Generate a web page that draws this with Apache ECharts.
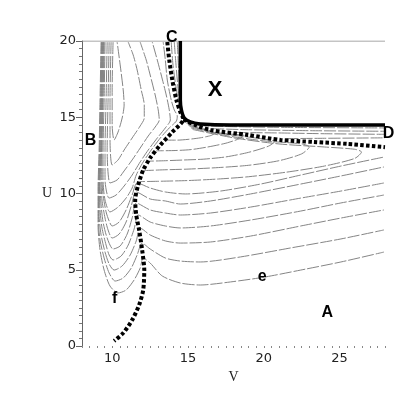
<!DOCTYPE html>
<html><head><meta charset="utf-8">
<script src="https://cdn.jsdelivr.net/npm/echarts@6/dist/echarts.min.js"></script>
<style>html,body{margin:0;padding:0;background:#fff}#c{width:407px;height:407px}</style>
</head><body><div id="c"></div>
<script>
// ---- axis tick labels ----
const xTickLabels = [10, 15, 20, 25];
const yTickLabels = [0, 5, 10, 15, 20];

// ---- thick curves ----
const sepStable = [[13.63,19.93],[13.76,18.75],[13.96,17.44],[14.23,16.13],[14.49,15.34],[14.69,14.88],[13.96,14.03],[13.17,13.18],[12.5,12.33],[12.04,11.54],[11.71,10.56],[11.51,9.57],[11.58,8.59],[11.77,7.61],[11.97,6.3],[12.11,4.98],[12.04,3.67],[11.77,2.69],[11.31,1.7],[10.72,0.85],[10.12,0.33]];
const sepRight = [[14.69,14.85],[15.48,14.49],[16.48,14.16],[18.93,13.84],[21.11,13.51],[23.3,13.38],[25.55,13.25],[28,13.04]];
const boundaryX = [[14.49,20],[14.49,16.13],[14.56,15.48],[14.75,14.95],[15.15,14.69],[15.81,14.56],[17.8,14.49],[28,14.49]];
const topEdge = [[8,20],[28,20]];

// ---- thin trajectories: long U-shaped ones (top -> dip -> right edge) ----
const ui7 = [[9.26,19.93],[9.19,16.13],[9.13,12.85],[9.06,10.23],[9.06,7.93],[9.19,6.3],[9.46,4.98],[9.85,3.93],[10.38,3.48],[10.91,3.67],[11.44,4.33],[11.84,5.11],[12.04,5.77],[12.5,5.44],[13.3,4.59],[14.49,4.13],[15.81,4.0],[17.8,4.2],[20.05,4.52],[22.44,4.98],[25.09,5.51],[27.93,6.16]];
const ui6 = [[9.29,19.93],[9.23,16.13],[9.16,12.85],[9.09,10.23],[9.09,8.13],[9.19,6.95],[9.46,5.77],[9.79,4.79],[10.19,4.26],[10.72,4.46],[11.25,5.11],[11.64,5.97],[11.97,6.75],[12.5,6.36],[13.5,5.77],[14.49,5.57],[15.81,5.51],[18.46,5.84],[21.77,6.43],[25.09,7.02],[27.93,7.61]];
const ui5 = [[9.32,19.93],[9.26,16.13],[9.19,12.85],[9.13,10.23],[9.13,8.59],[9.26,7.28],[9.52,6.16],[9.79,5.38],[10.12,4.98],[10.65,5.25],[11.18,5.97],[11.58,6.89],[11.84,7.74],[12.5,7.28],[13.5,6.89],[14.49,6.75],[16.48,6.82],[19.13,7.21],[22.44,7.87],[25.09,8.39],[27.93,8.92]];
const ui4 = [[9.36,19.93],[9.29,16.13],[9.23,12.85],[9.16,10.23],[9.19,8.92],[9.32,7.74],[9.59,6.62],[9.79,5.97],[10.05,5.64],[10.58,5.9],[11.05,6.62],[11.44,7.67],[11.71,8.59],[12.5,8.13],[13.5,7.87],[14.49,7.74],[16.48,7.87],[19.13,8.26],[22.44,8.85],[25.09,9.38],[27.93,9.9]];
const ui3 = [[9.39,19.93],[9.32,16.13],[9.26,12.85],[9.19,10.56],[9.26,9.25],[9.39,8.13],[9.66,7.08],[10.05,6.36],[10.52,6.56],[10.98,7.34],[11.31,8.39],[11.58,9.38],[12.5,8.92],[13.5,8.72],[14.49,8.59],[16.48,8.72],[19.13,9.11],[22.44,9.7],[25.09,10.16],[27.93,10.69]];
const ui2 = [[9.42,19.93],[9.36,16.13],[9.29,12.85],[9.26,10.89],[9.32,9.57],[9.52,8.39],[9.72,7.61],[9.99,7.08],[10.45,7.34],[10.91,8.13],[11.25,9.18],[11.58,10.1],[12.5,9.64],[13.5,9.51],[14.49,9.31],[16.48,9.51],[19.13,9.97],[22.44,10.62],[25.09,11.15],[27.93,11.74]];
const ui1 = [[9.46,19.93],[9.39,16.13],[9.32,12.85],[9.32,10.89],[9.39,9.9],[9.59,8.79],[9.79,8.2],[9.99,7.87],[10.45,8.13],[10.91,8.92],[11.31,9.9],[11.64,10.69],[12.5,10.36],[13.5,10.1],[14.82,9.97],[17.14,10.16],[19.79,10.62],[22.44,11.21],[25.09,11.8],[27.93,12.39]];

// ---- thin curves hanging from the top, turning near the saddle ----
const v1 = [[9.52,19.93],[9.46,16.13],[9.39,12.85],[9.39,10.89],[9.52,9.57],[9.85,8.79],[10.38,9.11],[10.91,9.7],[11.31,10.36],[11.58,11.21],[12.04,12.07],[12.57,12.85],[13.17,13.64],[13.76,14.3],[14.23,14.75],[14.29,15.08],[14.09,15.48],[13.89,16.13],[13.63,17.44],[13.5,18.75],[13.36,19.93]];
const v2 = [[9.66,19.93],[9.59,16.13],[9.52,12.85],[9.52,10.89],[9.79,9.7],[10.25,9.9],[10.78,10.49],[11.31,11.21],[11.84,12.07],[12.37,12.85],[12.97,13.64],[13.5,14.3],[13.83,14.82],[13.76,15.48],[13.56,16.46],[13.23,17.77],[12.97,18.75],[12.64,19.93]];
const v3 = [[9.79,19.93],[9.72,16.13],[9.66,12.85],[9.85,10.69],[10.32,10.89],[10.78,11.48],[11.31,12.2],[11.84,12.98],[12.37,13.77],[12.83,14.36],[13.1,14.82],[13.03,15.48],[12.83,16.46],[12.5,17.77],[12.24,18.75],[11.84,19.93]];
const v4 = [[9.92,19.93],[9.85,16.13],[9.85,13.51],[9.99,11.87],[10.38,12.2],[10.78,12.85],[11.31,13.64],[11.84,14.43],[12.11,14.95],[12.11,15.8],[11.91,16.79],[11.64,18.1],[11.38,19.08],[11.05,19.93]];
const v5 = [[10.05,19.93],[9.99,16.79],[9.99,14.49],[10.12,13.51],[10.38,14.03],[10.65,14.95],[10.78,15.8],[10.72,16.79],[10.52,18.43],[10.32,19.93]];

// ---- thin hairpins under the right separatrix ----
const hp1 = [[14.9,14.6],[15.8,14.3],[16.5,14.1],[16.75,13.95],[16.5,13.8],[15.8,13.65],[15.0,13.55],[14.3,13.5],[13.6,13.5]];
const hp2 = [[15.0,14.5],[16.5,14.05],[18.0,13.88],[18.7,13.8],[18.4,13.6],[17.5,13.3],[16.3,13.05],[15.2,12.88],[14.2,12.82],[12.9,12.8]];
const hp3 = [[15.1,14.4],[17.0,13.95],[19.0,13.7],[20.4,13.5],[20.7,13.4],[20.3,13.1],[19.0,12.7],[17.5,12.4],[16.0,12.25],[14.8,12.2],[13.5,12.15],[12.4,12.12]];
const hp4 = [[15.2,14.3],[17.5,13.8],[20.0,13.45],[22.5,13.25],[23.0,13.05],[22.5,12.6],[21.0,12.15],[19.0,11.85],[17.0,11.7],[15.0,11.6],[13.3,11.55],[12.05,11.5]];
const hp5 = [[15.3,14.2],[18.0,13.65],[21.0,13.25],[24.0,13.05],[26.0,12.9],[26.45,12.72],[26.0,12.3],[24.0,11.8],[21.5,11.4],[19.0,11.1],[17.0,10.95],[15.0,10.85],[13.0,10.8],[11.8,10.78]];

// ---- thin lines crowding near C and D ----
const nearC1 = [[13.89,19.93],[14.0,18.5],[14.2,17.0],[14.38,16.0],[14.47,15.5]];
const nearC2 = [[14.09,19.93],[14.2,18.5],[14.33,17.0],[14.44,16.0]];
const nearC3 = [[14.29,19.93],[14.36,18.5],[14.43,17.2]];
const nearD1 = [[15.6,14.45],[18,14.38],[22,14.33],[28,14.3]];
const nearD2 = [[16.6,14.25],[19,14.18],[23,14.12],[28,14.08]];
const nearD3 = [[18.2,14.0],[21,13.97],[24,13.92],[28,13.88]];
const nearD4 = [[21.5,13.6],[24,13.62],[28,13.65]];

// ---- region labels ----
const annoText = ['C','X','B','D','e','f','A'];
const annoPos = [[13.96,20.2],[16.81,16.79],[8.6,13.44],[28.26,13.9],[19.92,4.52],[10.19,3.08],[24.23,2.16]];
const annoSize = [16,22,16,16,16,16,16];

const thinCurves = [ui7,ui6,ui5,ui4,ui3,ui2,ui1,v1,v2,v3,v4,v5,hp1,hp2,hp3,hp4,hp5,nearC1,nearC2,nearC3,nearD1,nearD2,nearD3,nearD4];

const series = [];
series.push({type:'line', data: topEdge, symbol:'none', silent:true, lineStyle:{color:'#8a8a8a', width:1}});
thinCurves.forEach(c => series.push({
  type:'line', data:c, symbol:'none', smooth:0.25, silent:true,
  lineStyle:{color:'#858585', width:1, type:[12,2]}
}));
series.push({type:'line', data: boundaryX, symbol:'none', smooth:0.2, z:5,
  lineStyle:{color:'#000', width:3.5}});
[sepStable, sepRight].forEach(c => series.push({
  type:'line', data:c, symbol:'none', smooth:0.25, z:6,
  lineStyle:{color:'#000', width:4, type:[3.5,2.3], cap:'butt'}
}));
series.push({
  type:'scatter', symbolSize:1, clip:false, z:10, silent:true,
  itemStyle:{opacity:0},
  data: annoPos.map((p,i)=>({value:p, label:{fontSize:annoSize[i]}})),
  label:{show:true, position:[0,0], align:'center', verticalAlign:'middle',
    color:'#000', fontWeight:'bold', opacity:1,
    fontFamily:'Liberation Sans',
    formatter: p => annoText[p.dataIndex]}
});

const chart = echarts.init(document.getElementById('c'), null, {renderer:'canvas'});
chart.setOption({
  animation:false,
  backgroundColor:'#fff',
  grid:{left:82, right:22, top:41, bottom:61},
  xAxis:{type:'value', min:8, max:28, interval:0.5,
    name:'V', nameLocation:'middle', nameGap:22,
    nameTextStyle:{fontFamily:'Liberation Serif, serif', fontSize:14, color:'#222'},
    axisLine:{show:false},
    axisTick:{show:true, length:2, lineStyle:{color:'#888'}},
    splitLine:{show:false},
    axisLabel:{fontFamily:'DejaVu Sans', fontSize:13, color:'#222', margin:6,
      formatter: v => xTickLabels.includes(v) ? String(v) : ''}
  },
  yAxis:{type:'value', min:0, max:20, interval:5,
    name:'U', nameLocation:'middle', nameGap:30, nameRotate:0,
    nameTextStyle:{fontFamily:'Liberation Serif, serif', fontSize:14, color:'#222', padding:[10,0,0,0]},
    axisLine:{show:true, lineStyle:{color:'#666', width:1}},
    axisTick:{show:true, length:6, lineStyle:{color:'#666'}},
    minorTick:{show:true, splitNumber:10, length:3, lineStyle:{color:'#777'}},
    splitLine:{show:false},
    axisLabel:{fontFamily:'DejaVu Sans', fontSize:13, color:'#222', margin:6,
      formatter: v => yTickLabels.includes(v) ? String(v) : ''}
  },
  series
});
</script></body></html>
